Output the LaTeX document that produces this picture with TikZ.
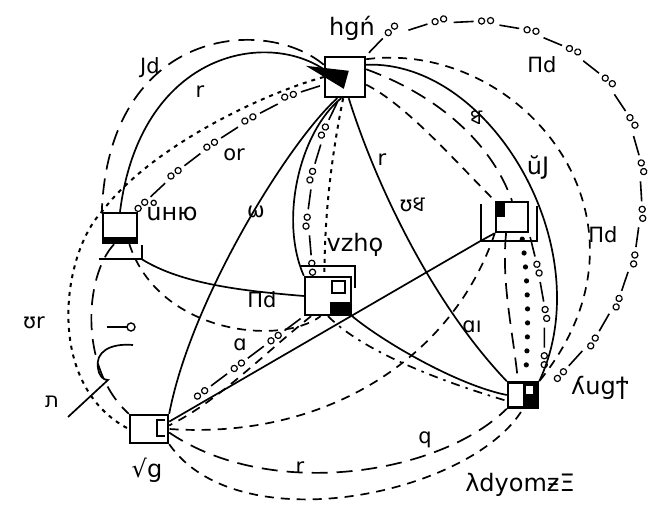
\documentclass[tikz,border=0pt]{standalone}
\usepackage{fontspec}
\setmainfont{DejaVu Sans}
\newfontfamily\bengfont[Script=Bengali]{Hind Siliguri}
\usetikzlibrary{decorations.markings}

\begin{document}
\begin{tikzpicture}
    [ x=1pt, y=-1pt
    , line width=1.7pt
    , station/.style={draw, line width=2.4pt, inner sep=0pt}
    , tag/.style={font=\fontsize{24}{26}\selectfont, inner sep=1pt}
    , edgetag/.style={font=\fontsize{21}{24}\selectfont, inner sep=1pt}
    , longdash/.style={dash pattern=on 16pt off 9pt}
    , meddash/.style={dash pattern=on 9pt off 7pt}
    , dotdash/.style={dash pattern=on 4pt off 5pt, line width=2pt}
    , dashdot/.style={dash pattern=on 9pt off 6pt on 2.5pt off 6pt}
    , ringdash/.style={draw=none, postaction={decorate}, decoration={markings,
        mark=between positions 4pt and -38pt step 46pt with {\draw[line width=1.6pt] (0,0) -- (20,0);
        \draw[line width=1.2pt] (28,0) circle (3.1pt) (37,0) circle (3.1pt);}}}
    , balldots/.style={draw=none, postaction={decorate}, decoration={markings,
        mark=between positions 6pt and -4pt step 14pt with {\fill (0,0) circle (2.6pt);}}}
    ]
\useasboundingbox (0,0) rectangle (665,510);

% the six stations
\node[station, minimum width=40pt, minimum height=40pt] (hgn) at (345,77) {};
\node[station, minimum width=34pt, minimum height=30pt] (uhu) at (120,228) {};
\node[station, minimum width=46pt, minimum height=38pt] (vzhq) at (328,296) {};
\node[station, minimum width=32pt, minimum height=30pt] (uj) at (512,217) {};
\node[station, minimum width=30pt, minimum height=25pt] (yugt) at (523,395) {};
\node[station, minimum width=38pt, minimum height=28pt] (vhg) at (149,429) {};

% marks on the boxes
\fill (hgn.north west) ++(-18,10) -- ++(43,5) -- ++(-5,18) -- cycle;
\fill ([shift={(0,-7)}]uhu.south west) rectangle (uhu.south east);
\draw ([shift={(-3,15)}]uhu.south west) -- ++(43,0) coordinate (uhuhook) -- ++(0,-14);
\draw ([shift={(-3,-10)}]vzhq.north west) -- ([shift={(3,-10)}]vzhq.north east) -- ++(0,22);
\fill ([shift={(-22,-14)}]vzhq.south east) rectangle (vzhq.south east);
\draw ([shift={(-20,5)}]vzhq.north east) rectangle ++(13,12);
\fill (uj.north west) rectangle ++(10,16);
\draw ([shift={(-14,3)}]uj.north west) -- ++(0,37) coordinate (ujhook) -- ++(56,0) -- ++(0,-35);
\draw (ujhook) -- (uj.south west);
\fill (yugt.north) rectangle (yugt.south east);
\fill[white] ([shift={(3,5)}]yugt.north) rectangle ++(7,8);
\draw ([shift={(-4,6)}]vhg.north east) -- ++(-8,0) -- ++(0,16) -- ++(8,0);

% names
\node[tag] (hgnl) at (352,28) {hgń};
\node[tag] (uhul) at (172,210) {ůню};
\node[tag] (vzhql) at (355,245) {vzhϙ};
\node[tag] (ujl) at (538,167) {ŭJ};
\node[tag] (yugtl) at (600,388) {ʎugϯ};
\node[tag] (vhgl) at (147,470) {√g};
\node[tag] (dyol) at (520,485) {λdyomƶΞ};

% from the top station
\draw[longdash] (hgn.150) .. controls +(-60,-50) and +(7,-183) .. (uhu.north west);
\draw (hgn.160) .. controls +(-60,-40) and +(20,-158) .. (uhu.north);
\draw[dotdash] (hgn.west) .. controls +(-65,18) and +(47,-63) .. (uhu.north west)
    .. controls +(-40,42) and +(-85,-44) .. (vhg.west);
\draw[ringdash] (hgn.200) .. controls +(-55,16) and +(40,-50) .. (uhu.north east);
\draw (hgn.250) .. controls +(-48,43) and +(22,-115) .. (vhg.north east);
\draw (hgn.260) .. controls +(-41,33) and +(-25,-57) .. (vzhq.north west);
\draw[ringdash] (hgn.255) .. controls +(-30,60) and +(-19,-47) .. (vzhq.115);
\draw[dotdash] (hgn.265) .. controls +(-12,60) and +(0,-60) .. (vzhq.100);
\draw (hgn.280) .. controls +(25,80) and +(-78,-82) .. (yugt.north west);
\draw[meddash] (hgn.340) .. controls +(40,20) and +(-40,-40) .. (uj.north west);
\draw[longdash] (hgn.20) .. controls +(55,20) and +(-25,-70) .. (uj.north);
\draw (hgn.30) .. controls +(125,-5) and +(62,-132) .. (yugt.north east);
\draw[meddash] (hgn.40) .. controls +(155,-20) and +(132,-162) .. (yugt.north east);
\coordinate (rim) at (640,175);
\draw[ringdash] (hgn.north east) .. controls +(50,-60) and +(-10,-170) .. (rim)
    .. controls +(8,90) and +(62,-34) .. (yugt.30);

% right station down
\draw[balldots] (uj.300) .. controls +(8,50) and +(3,-50) .. (yugt.80);
\draw[ringdash] (uj.south east) .. controls +(15,60) and +(10,-60) .. (yugt.north east);
\draw[longdash] (uj.250) .. controls +(-5,50) and +(-5,-50) .. (yugt.110);
\draw[meddash] (uj.south west) .. controls +(-40,120) and +(162,11) .. (vhg.east);

% left station
\draw (uhuhook) .. controls +(40,25) and +(-60,-5) .. (vzhq.west);
\draw[meddash] (uhu.300) .. controls +(30,90) and +(-40,30) .. (vzhq.250);
\draw[longdash] (uhu.250) .. controls +(-30,32) and +(-50,-45) .. (vhg.north west);

% centre station
\draw[ringdash] (vzhq.south west) .. controls +(-40,30) and +(40,-30) .. (vhg.30);
\draw[meddash] (vzhq.230) .. controls +(-50,40) and +(50,-25) .. (vhg.10);
\draw (vzhq.south east) .. controls +(30,25) and +(-50,-10) .. (yugt.west);
\draw[dashdot] (vzhq.south) .. controls +(40,40) and +(-50,-15) .. (yugt.200);

% bottom left station
\draw (vhg.20) -- (ujhook);
\draw[longdash] (vhg.350) .. controls +(100,68) and +(-68,67) .. (yugt.south west);
\draw[meddash] (vhg.south east) .. controls +(70,100) and +(-50,85) .. (yugt.south);

% odd mark on the left
\draw (107,327) -- (127,327);
\draw[line width=1.4pt] (131,327) circle (4pt);
\draw (133,345) .. controls (110,343) and (95,352) .. (98,368)
    .. controls (99,376) and (103,380) .. (108,380) -- (68,417);

% line labels
\node[edgetag] (t1) at (150,68) {Jd};
\node[edgetag] (t2) at (200,92) {r};
\node[edgetag] (t3) at (234,155) {or};
\node[edgetag] (t4) at (256,212) {ω};
\node[edgetag] (t5) at (382,160) {r};
\node[edgetag] (t6) at (412,205) {ʊ{\bengfont ধ}};
\node[edgetag] (t7) at (476,118) {{\bengfont ধ}};
\node[edgetag] (t8) at (542,65) {Пd};
\node[edgetag] (t9) at (603,235) {Пd};
\node[edgetag] (t10) at (262,300) {Пd};
\node[edgetag] (t11) at (240,345) {ɑ};
\node[edgetag] (t12) at (472,327) {ɑı};
\node[edgetag] (t13) at (34,323) {ʊr};
\node[edgetag] (t14) at (52,402) {ת};
\node[edgetag] (t15) at (425,440) {q};
\node[edgetag] (t16) at (300,468) {r};
\end{tikzpicture}
\end{document}
